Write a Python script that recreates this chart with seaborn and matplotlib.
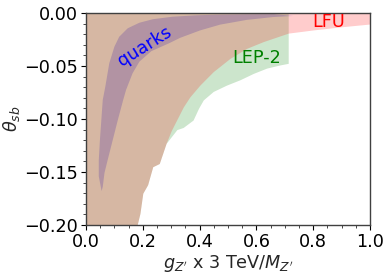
import numpy as np
import seaborn as sns
import matplotlib
matplotlib.use('Agg')
import matplotlib.pyplot as plt

# LEP-2 allowed region: lower (staircase) edge, region reaches up to 0
lep_x = [0.0, 0.180, 0.190, 0.200, 0.217, 0.235, 0.258, 0.282, 0.320, 0.342, 0.377,
         0.396, 0.413, 0.448, 0.495, 0.542, 0.589, 0.636, 0.683, 0.712]
lep_y = [-0.200, -0.200, -0.189, -0.170, -0.162, -0.145, -0.142, -0.123, -0.110, -0.108, -0.101,
         -0.090, -0.082, -0.074, -0.068, -0.063, -0.057, -0.052, -0.049, -0.0475]

# LFU allowed region: lower edge, region reaches up to 0
lfu_x = [0.0, 0.180, 0.190, 0.200, 0.217, 0.235, 0.258, 0.282, 0.300, 0.343, 0.366,
         0.401, 0.448, 0.507, 0.566, 0.624, 0.712, 0.80, 0.90, 1.00]
lfu_y = [-0.200, -0.200, -0.189, -0.170, -0.162, -0.145, -0.142, -0.123, -0.111, -0.0884, -0.079,
         -0.068, -0.0553, -0.0428, -0.0333, -0.027, -0.019, -0.016, -0.013, -0.0104]

# quarks band: upper-left edge and lower-right edge
qu_up_x = [0.055, 0.045, 0.045, 0.049, 0.054, 0.059, 0.068, 0.082, 0.100, 0.117, 0.147,
           0.188, 0.235, 0.305, 0.387, 0.458, 0.566, 0.660, 0.729]
qu_up_y = [-0.168, -0.154, -0.139, -0.120, -0.101, -0.082, -0.0695, -0.0474, -0.0318, -0.0224,
           -0.0144, -0.0092, -0.0059, -0.0035, -0.0022, -0.0016, -0.0012, -0.0010, -0.0028]
qu_lo_x = [0.059, 0.065, 0.076, 0.094, 0.112, 0.131, 0.141, 0.164, 0.188, 0.230, 0.293,
           0.331, 0.401, 0.472, 0.566, 0.660]
qu_lo_y = [-0.164, -0.151, -0.139, -0.120, -0.101, -0.082, -0.0726, -0.0569, -0.0459, -0.036,
           -0.0285, -0.0235, -0.0165, -0.0110, -0.0065, -0.0038]

sns.set_style('ticks')
plt.rcParams['font.family'] = ['DejaVu Sans']
plt.rcParams['mathtext.fontset'] = 'dejavusans'

fig, ax = plt.subplots(figsize=(3.9, 2.74), dpi=100)

# quarks (drawn first, the other bands sit on top of it)
ax.fill(qu_up_x + qu_lo_x[::-1], qu_up_y + qu_lo_y[::-1], color='blue', alpha=0.22, lw=0)
# LEP-2
ax.fill_between(lep_x, lep_y, 0, color='green', alpha=0.2, lw=0)
# LFU
ax.fill_between(lfu_x, lfu_y, 0, color='red', alpha=0.2, lw=0)

ax.text(0.205, -0.032, 'quarks', color='blue', fontsize=12.7, rotation=32,
        ha='center', va='center')
ax.text(0.60, -0.042, 'LEP-2', color='green', fontsize=12.7, ha='center', va='center')
ax.text(0.856, -0.0085, 'LFU', color='red', fontsize=12.7, ha='center', va='center')

ax.set_xlim(0, 1)
ax.set_ylim(-0.2, 0)
ax.set_xticks([0, 0.2, 0.4, 0.6, 0.8, 1.0])
ax.set_yticks([-0.2, -0.15, -0.1, -0.05, 0.0])
ax.set_xticklabels(['0.0', '0.2', '0.4', '0.6', '0.8', '1.0'])
ax.set_yticklabels(['\u22120.20', '\u22120.15', '\u22120.10', '\u22120.05', '0.00'])
ax.minorticks_on()
ax.tick_params(labelsize=12.7, colors='black', pad=2)
ax.tick_params(which='minor', length=2)
for s in ax.spines.values():
    s.set_color('0.25')
    s.set_linewidth(1.0)

ax.set_xlabel(r"$g_{Z'}$ x 3 TeV/$M_{Z'}$", fontsize=12.7, labelpad=2)
ax.set_ylabel(r'$\theta_{sb}$', fontsize=12.7)
ax.yaxis.set_label_coords(-0.225, 0.5)

fig.subplots_adjust(left=0.2205, right=0.9487, top=0.9526, bottom=0.1788)
fig.savefig('out.png', dpi=100)
